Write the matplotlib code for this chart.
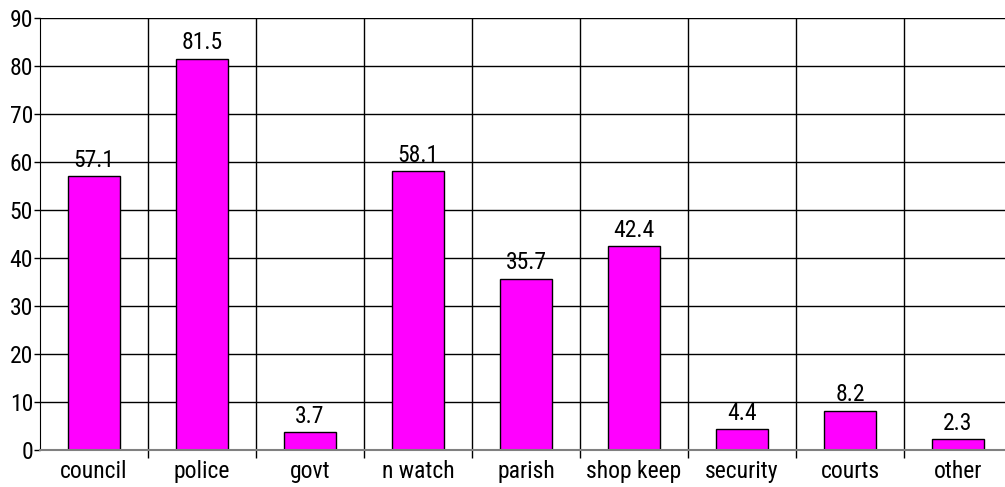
import matplotlib
matplotlib.use("Agg")
import matplotlib.pyplot as plt
import numpy as np

plt.rcParams['font.family'] = ['Roboto Condensed', 'Archivo Narrow', 'DejaVu Sans']
plt.rcParams.update({'font.size': 17})

categories = ["council", "police", "govt", "n watch", "parish", "shop keep",
              "security", "courts", "other"]
values = [57.1, 81.5, 3.7, 58.1, 35.7, 42.4, 4.4, 8.2, 2.3]

W, H = 1005, 487
fig = plt.figure(figsize=(W / 100, H / 100), dpi=100)
# plot area runs a little past the right edge of the picture, like the original
ax = fig.add_axes([40 / W, (H - 450) / H, 972 / W, 432 / H])

x = np.arange(len(categories))
ax.bar(x, values, width=0.48, color="#ff00ff", edgecolor="black", linewidth=1, zorder=3)

for xi, v in zip(x, values):
    ax.text(xi, v + 0.9, f"{v}", ha="center", va="bottom", zorder=4)

ax.set_xlim(-0.5, len(categories) - 0.5)
ax.set_ylim(0, 90)
ax.set_yticks(np.arange(0, 91, 10))

# category separators as minor ticks + vertical grid
ax.set_xticks(x)
ax.set_xticklabels(categories)
ax.set_xticks(np.arange(0.5, len(categories) - 0.5, 1), minor=True)
ax.tick_params(axis="x", which="major", length=0, pad=7)
ax.tick_params(axis="x", which="minor", length=6, width=1, color="black")
ax.tick_params(axis="y", length=4, width=1, pad=1)

ax.grid(axis="y", color="black", linewidth=1, zorder=0)
ax.grid(axis="x", which="minor", color="black", linewidth=1, zorder=0)

ax.spines['top'].set_visible(False)
ax.spines['right'].set_visible(False)
ax.spines['left'].set_color("black")
ax.spines['bottom'].set_color("#808080")
ax.spines['bottom'].set_linewidth(1.5)
ax.spines['bottom'].set_zorder(5)

fig.savefig("out.png", dpi=100)
